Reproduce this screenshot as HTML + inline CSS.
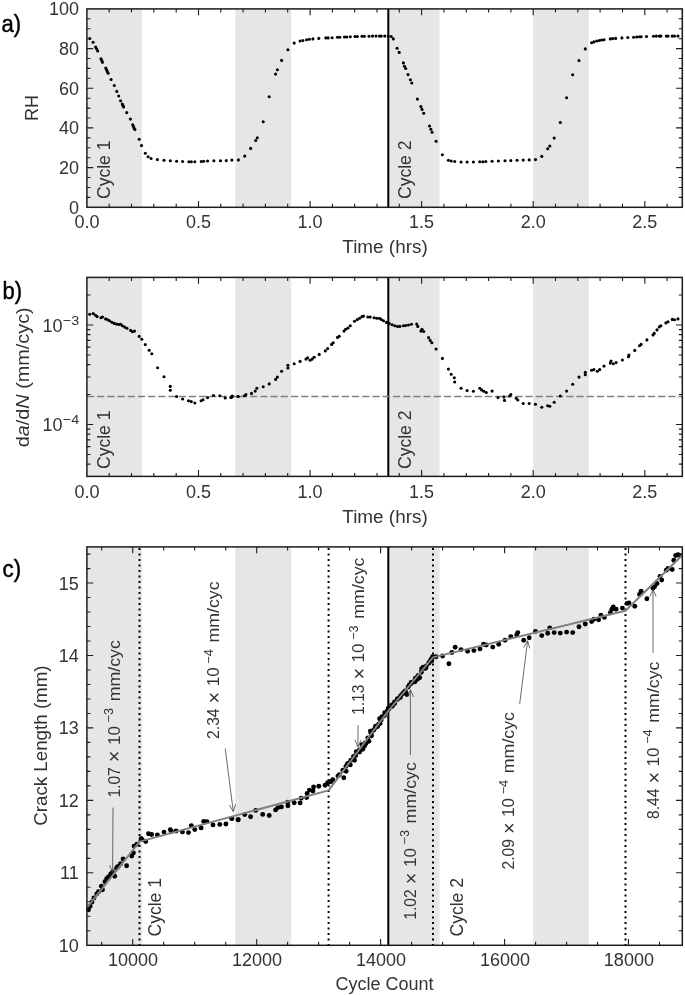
<!DOCTYPE html>
<html><head><meta charset="utf-8"><title>Figure</title>
<style>html,body{margin:0;padding:0;background:#fff}svg{display:block}</style></head>
<body>
<svg width="685" height="995" viewBox="0 0 685 995" font-family="'Liberation Sans', sans-serif" fill="#333">
<rect width="685" height="995" fill="#fff"/>
<rect x="86.9" y="8.9" width="55.1" height="198.4" fill="#e6e6e6"/>
<rect x="235.3" y="8.9" width="55.9" height="198.4" fill="#e6e6e6"/>
<rect x="388.3" y="8.9" width="51.2" height="198.4" fill="#e6e6e6"/>
<rect x="533.1" y="8.9" width="55.7" height="198.4" fill="#e6e6e6"/>
<line x1="388.3" x2="388.3" y1="8.9" y2="207.3" stroke="#000" stroke-width="2"/>
<g fill="#000">
<circle cx="89.8" cy="38.5" r="1.55"/>
<circle cx="93.1" cy="42.3" r="1.55"/>
<circle cx="95.7" cy="47.1" r="1.55"/>
<circle cx="96.6" cy="48.8" r="1.55"/>
<circle cx="97.7" cy="51.0" r="1.55"/>
<circle cx="101.0" cy="58.7" r="1.55"/>
<circle cx="101.8" cy="60.5" r="1.55"/>
<circle cx="102.5" cy="62.2" r="1.55"/>
<circle cx="105.8" cy="68.1" r="1.55"/>
<circle cx="106.6" cy="69.8" r="1.55"/>
<circle cx="107.3" cy="71.6" r="1.55"/>
<circle cx="108.2" cy="73.3" r="1.55"/>
<circle cx="111.1" cy="79.5" r="1.55"/>
<circle cx="114.3" cy="85.5" r="1.55"/>
<circle cx="116.8" cy="91.4" r="1.55"/>
<circle cx="118.7" cy="96.0" r="1.55"/>
<circle cx="120.6" cy="100.8" r="1.55"/>
<circle cx="122.3" cy="104.1" r="1.55"/>
<circle cx="122.9" cy="105.4" r="1.55"/>
<circle cx="123.6" cy="106.9" r="1.55"/>
<circle cx="126.7" cy="112.6" r="1.55"/>
<circle cx="130.4" cy="119.1" r="1.55"/>
<circle cx="132.7" cy="124.7" r="1.55"/>
<circle cx="133.4" cy="126.4" r="1.55"/>
<circle cx="134.2" cy="128.2" r="1.55"/>
<circle cx="134.9" cy="129.6" r="1.55"/>
<circle cx="139.2" cy="139.3" r="1.55"/>
<circle cx="141.5" cy="145.6" r="1.55"/>
<circle cx="145.3" cy="153.3" r="1.55"/>
<circle cx="148.1" cy="156.8" r="1.55"/>
<circle cx="151.1" cy="158.5" r="1.55"/>
<circle cx="157.4" cy="159.6" r="1.55"/>
<circle cx="164.0" cy="160.3" r="1.55"/>
<circle cx="170.3" cy="160.8" r="1.55"/>
<circle cx="176.6" cy="161.3" r="1.55"/>
<circle cx="182.6" cy="161.5" r="1.55"/>
<circle cx="188.9" cy="161.7" r="1.55"/>
<circle cx="191.3" cy="161.7" r="1.55"/>
<circle cx="194.8" cy="161.7" r="1.55"/>
<circle cx="201.3" cy="161.5" r="1.55"/>
<circle cx="203.7" cy="161.3" r="1.55"/>
<circle cx="207.6" cy="161.0" r="1.55"/>
<circle cx="213.9" cy="160.8" r="1.55"/>
<circle cx="220.5" cy="160.8" r="1.55"/>
<circle cx="226.3" cy="160.6" r="1.55"/>
<circle cx="231.9" cy="160.1" r="1.55"/>
<circle cx="238.4" cy="159.9" r="1.55"/>
<circle cx="244.7" cy="156.1" r="1.55"/>
<circle cx="250.6" cy="148.4" r="1.55"/>
<circle cx="255.7" cy="140.5" r="1.55"/>
<circle cx="257.3" cy="137.7" r="1.55"/>
<circle cx="263.2" cy="121.8" r="1.55"/>
<circle cx="269.2" cy="96.8" r="1.55"/>
<circle cx="275.6" cy="74.1" r="1.55"/>
<circle cx="277.4" cy="69.7" r="1.55"/>
<circle cx="281.6" cy="60.4" r="1.55"/>
<circle cx="287.9" cy="49.8" r="1.55"/>
<circle cx="294.2" cy="43.1" r="1.55"/>
<circle cx="300.1" cy="41.0" r="1.55"/>
<circle cx="302.9" cy="40.5" r="1.55"/>
<circle cx="306.6" cy="39.8" r="1.55"/>
<circle cx="309.4" cy="39.3" r="1.55"/>
<circle cx="312.9" cy="38.9" r="1.55"/>
<circle cx="318.8" cy="38.4" r="1.55"/>
<circle cx="325.8" cy="37.9" r="1.55"/>
<circle cx="328.1" cy="37.9" r="1.55"/>
<circle cx="332.1" cy="37.7" r="1.55"/>
<circle cx="337.5" cy="37.2" r="1.55"/>
<circle cx="339.8" cy="37.2" r="1.55"/>
<circle cx="344.5" cy="37.0" r="1.55"/>
<circle cx="346.8" cy="37.0" r="1.55"/>
<circle cx="350.3" cy="36.8" r="1.55"/>
<circle cx="355.0" cy="36.5" r="1.55"/>
<circle cx="357.3" cy="36.5" r="1.55"/>
<circle cx="362.0" cy="36.3" r="1.55"/>
<circle cx="364.3" cy="36.3" r="1.55"/>
<circle cx="369.0" cy="36.3" r="1.55"/>
<circle cx="372.5" cy="36.1" r="1.55"/>
<circle cx="376.0" cy="36.1" r="1.55"/>
<circle cx="379.5" cy="36.1" r="1.55"/>
<circle cx="381.2" cy="36.1" r="1.55"/>
<circle cx="384.7" cy="36.1" r="1.55"/>
<circle cx="388.2" cy="36.1" r="1.55"/>
<circle cx="391.2" cy="36.5" r="1.55"/>
<circle cx="393.3" cy="38.9" r="1.55"/>
<circle cx="397.1" cy="48.2" r="1.55"/>
<circle cx="399.2" cy="52.4" r="1.55"/>
<circle cx="403.4" cy="62.9" r="1.55"/>
<circle cx="404.5" cy="66.2" r="1.55"/>
<circle cx="405.7" cy="68.5" r="1.55"/>
<circle cx="408.0" cy="74.6" r="1.55"/>
<circle cx="410.4" cy="79.7" r="1.55"/>
<circle cx="411.8" cy="83.0" r="1.55"/>
<circle cx="417.4" cy="99.1" r="1.55"/>
<circle cx="420.9" cy="106.6" r="1.55"/>
<circle cx="422.0" cy="109.4" r="1.55"/>
<circle cx="423.7" cy="113.2" r="1.55"/>
<circle cx="429.5" cy="126.0" r="1.55"/>
<circle cx="430.9" cy="129.3" r="1.55"/>
<circle cx="432.1" cy="132.3" r="1.55"/>
<circle cx="436.1" cy="141.2" r="1.55"/>
<circle cx="442.4" cy="154.7" r="1.55"/>
<circle cx="448.4" cy="160.3" r="1.55"/>
<circle cx="451.2" cy="161.0" r="1.55"/>
<circle cx="454.7" cy="161.5" r="1.55"/>
<circle cx="461.1" cy="162.0" r="1.55"/>
<circle cx="467.1" cy="162.0" r="1.55"/>
<circle cx="473.4" cy="162.0" r="1.55"/>
<circle cx="479.7" cy="161.7" r="1.55"/>
<circle cx="482.8" cy="161.7" r="1.55"/>
<circle cx="485.8" cy="161.5" r="1.55"/>
<circle cx="492.1" cy="161.3" r="1.55"/>
<circle cx="498.4" cy="161.0" r="1.55"/>
<circle cx="505.0" cy="160.8" r="1.55"/>
<circle cx="510.8" cy="160.6" r="1.55"/>
<circle cx="517.1" cy="160.3" r="1.55"/>
<circle cx="523.2" cy="160.1" r="1.55"/>
<circle cx="529.2" cy="159.9" r="1.55"/>
<circle cx="535.5" cy="159.6" r="1.55"/>
<circle cx="541.8" cy="156.4" r="1.55"/>
<circle cx="547.7" cy="148.7" r="1.55"/>
<circle cx="549.8" cy="146.1" r="1.55"/>
<circle cx="554.2" cy="138.1" r="1.55"/>
<circle cx="560.3" cy="122.5" r="1.55"/>
<circle cx="566.6" cy="97.7" r="1.55"/>
<circle cx="572.7" cy="74.8" r="1.55"/>
<circle cx="579.0" cy="60.6" r="1.55"/>
<circle cx="585.3" cy="48.9" r="1.55"/>
<circle cx="591.6" cy="42.8" r="1.55"/>
<circle cx="593.9" cy="41.9" r="1.55"/>
<circle cx="596.7" cy="41.0" r="1.55"/>
<circle cx="599.3" cy="40.5" r="1.55"/>
<circle cx="601.6" cy="40.0" r="1.55"/>
<circle cx="604.0" cy="39.8" r="1.55"/>
<circle cx="610.3" cy="38.9" r="1.55"/>
<circle cx="612.6" cy="38.6" r="1.55"/>
<circle cx="615.6" cy="38.4" r="1.55"/>
<circle cx="621.9" cy="37.9" r="1.55"/>
<circle cx="627.8" cy="37.5" r="1.55"/>
<circle cx="633.6" cy="37.2" r="1.55"/>
<circle cx="636.7" cy="37.0" r="1.55"/>
<circle cx="639.5" cy="36.8" r="1.55"/>
<circle cx="641.1" cy="36.8" r="1.55"/>
<circle cx="646.5" cy="36.5" r="1.55"/>
<circle cx="653.5" cy="36.3" r="1.55"/>
<circle cx="656.3" cy="36.1" r="1.55"/>
<circle cx="659.3" cy="36.1" r="1.55"/>
<circle cx="660.9" cy="36.1" r="1.55"/>
<circle cx="666.3" cy="36.1" r="1.55"/>
<circle cx="668.0" cy="36.1" r="1.55"/>
<circle cx="672.2" cy="36.1" r="1.55"/>
<circle cx="674.5" cy="36.1" r="1.55"/>
<circle cx="678.0" cy="36.1" r="1.55"/>
</g>
<path d="M198.5 207.3v-6.3M198.5 8.9v6.3M310.1 207.3v-6.3M310.1 8.9v6.3M421.6 207.3v-6.3M421.6 8.9v6.3M533.2 207.3v-6.3M533.2 8.9v6.3M644.8 207.3v-6.3M644.8 8.9v6.3M109.2 207.3v-3.5M109.2 8.9v3.5M131.5 207.3v-3.5M131.5 8.9v3.5M153.8 207.3v-3.5M153.8 8.9v3.5M176.2 207.3v-3.5M176.2 8.9v3.5M220.8 207.3v-3.5M220.8 8.9v3.5M243.1 207.3v-3.5M243.1 8.9v3.5M265.4 207.3v-3.5M265.4 8.9v3.5M287.7 207.3v-3.5M287.7 8.9v3.5M332.4 207.3v-3.5M332.4 8.9v3.5M354.7 207.3v-3.5M354.7 8.9v3.5M377.0 207.3v-3.5M377.0 8.9v3.5M399.3 207.3v-3.5M399.3 8.9v3.5M443.9 207.3v-3.5M443.9 8.9v3.5M466.3 207.3v-3.5M466.3 8.9v3.5M488.6 207.3v-3.5M488.6 8.9v3.5M510.9 207.3v-3.5M510.9 8.9v3.5M555.5 207.3v-3.5M555.5 8.9v3.5M577.8 207.3v-3.5M577.8 8.9v3.5M600.1 207.3v-3.5M600.1 8.9v3.5M622.5 207.3v-3.5M622.5 8.9v3.5M667.1 207.3v-3.5M667.1 8.9v3.5" stroke="#1c1c1c" stroke-width="1.1" fill="none"/>
<path d="M86.9 167.6h6.3M682.3 167.6h-6.3M86.9 127.9h6.3M682.3 127.9h-6.3M86.9 88.3h6.3M682.3 88.3h-6.3M86.9 48.6h6.3M682.3 48.6h-6.3M86.9 197.4h3.5M682.3 197.4h-3.5M86.9 187.5h3.5M682.3 187.5h-3.5M86.9 177.5h3.5M682.3 177.5h-3.5M86.9 157.7h3.5M682.3 157.7h-3.5M86.9 147.8h3.5M682.3 147.8h-3.5M86.9 137.9h3.5M682.3 137.9h-3.5M86.9 118.0h3.5M682.3 118.0h-3.5M86.9 108.1h3.5M682.3 108.1h-3.5M86.9 98.2h3.5M682.3 98.2h-3.5M86.9 78.3h3.5M682.3 78.3h-3.5M86.9 68.4h3.5M682.3 68.4h-3.5M86.9 58.5h3.5M682.3 58.5h-3.5M86.9 38.7h3.5M682.3 38.7h-3.5M86.9 28.7h3.5M682.3 28.7h-3.5M86.9 18.8h3.5M682.3 18.8h-3.5" stroke="#1c1c1c" stroke-width="1.1" fill="none"/>
<rect x="86.9" y="8.9" width="595.4" height="198.4" fill="none" stroke="#1c1c1c" stroke-width="1.5"/>
<text x="79.0" y="213.6" font-size="18" text-anchor="end">0</text>
<text x="79.0" y="173.9" font-size="18" text-anchor="end">20</text>
<text x="79.0" y="134.2" font-size="18" text-anchor="end">40</text>
<text x="79.0" y="94.6" font-size="18" text-anchor="end">60</text>
<text x="79.0" y="54.9" font-size="18" text-anchor="end">80</text>
<text x="79.0" y="15.2" font-size="18" text-anchor="end">100</text>
<text x="86.9" y="227.8" font-size="18" text-anchor="middle">0.0</text>
<text x="198.5" y="227.8" font-size="18" text-anchor="middle">0.5</text>
<text x="310.1" y="227.8" font-size="18" text-anchor="middle">1.0</text>
<text x="421.6" y="227.8" font-size="18" text-anchor="middle">1.5</text>
<text x="533.2" y="227.8" font-size="18" text-anchor="middle">2.0</text>
<text x="644.8" y="227.8" font-size="18" text-anchor="middle">2.5</text>
<text x="385.0" y="252.9" font-size="18" text-anchor="middle" textLength="85.4" lengthAdjust="spacingAndGlyphs">Time (hrs)</text>
<text transform="translate(38.1 108.0) rotate(-90)" font-size="18" text-anchor="middle">RH</text>
<text transform="translate(109.5 199.0) rotate(-90)" font-size="18" text-anchor="start" textLength="58.5" lengthAdjust="spacingAndGlyphs">Cycle 1</text>
<text transform="translate(410.8 199.0) rotate(-90)" font-size="18" text-anchor="start" textLength="58.5" lengthAdjust="spacingAndGlyphs">Cycle 2</text>
<text x="1.6" y="31.5" font-size="23" text-anchor="start" textLength="19.6" lengthAdjust="spacingAndGlyphs" fill="#000" stroke="#000" stroke-width="0.45">a)</text>
<rect x="86.9" y="277.4" width="55.1" height="199.0" fill="#e6e6e6"/>
<rect x="235.3" y="277.4" width="55.9" height="199.0" fill="#e6e6e6"/>
<rect x="388.3" y="277.4" width="51.2" height="199.0" fill="#e6e6e6"/>
<rect x="533.1" y="277.4" width="55.7" height="199.0" fill="#e6e6e6"/>
<line x1="388.3" x2="388.3" y1="277.4" y2="476.4" stroke="#000" stroke-width="2"/>
<line x1="86.9" x2="682.3" y1="396.5" y2="396.5" stroke="#808080" stroke-width="1.6" stroke-dasharray="7.2 3"/>
<g fill="#000">
<circle cx="89.7" cy="314.2" r="1.55"/>
<circle cx="93.2" cy="313.5" r="1.55"/>
<circle cx="95.5" cy="315.2" r="1.55"/>
<circle cx="97.1" cy="316.6" r="1.55"/>
<circle cx="100.9" cy="317.7" r="1.55"/>
<circle cx="102.5" cy="317.0" r="1.55"/>
<circle cx="105.6" cy="318.9" r="1.55"/>
<circle cx="107.7" cy="319.8" r="1.55"/>
<circle cx="109.5" cy="320.8" r="1.55"/>
<circle cx="111.9" cy="322.2" r="1.55"/>
<circle cx="114.2" cy="323.4" r="1.55"/>
<circle cx="116.5" cy="324.1" r="1.55"/>
<circle cx="118.9" cy="324.5" r="1.55"/>
<circle cx="120.5" cy="324.3" r="1.55"/>
<circle cx="122.4" cy="325.7" r="1.55"/>
<circle cx="124.7" cy="327.1" r="1.55"/>
<circle cx="127.0" cy="328.3" r="1.55"/>
<circle cx="130.6" cy="330.4" r="1.55"/>
<circle cx="132.4" cy="331.8" r="1.55"/>
<circle cx="134.5" cy="331.1" r="1.55"/>
<circle cx="139.2" cy="336.4" r="1.55"/>
<circle cx="141.8" cy="339.2" r="1.55"/>
<circle cx="145.3" cy="344.6" r="1.55"/>
<circle cx="149.2" cy="350.2" r="1.55"/>
<circle cx="151.8" cy="353.7" r="1.55"/>
<circle cx="157.6" cy="367.7" r="1.55"/>
<circle cx="164.0" cy="376.8" r="1.55"/>
<circle cx="170.3" cy="386.4" r="1.55"/>
<circle cx="170.3" cy="390.2" r="1.55"/>
<circle cx="176.6" cy="396.5" r="1.55"/>
<circle cx="182.6" cy="399.0" r="1.55"/>
<circle cx="188.5" cy="400.7" r="1.55"/>
<circle cx="191.3" cy="401.6" r="1.55"/>
<circle cx="194.8" cy="403.0" r="1.55"/>
<circle cx="201.1" cy="400.7" r="1.55"/>
<circle cx="203.0" cy="399.7" r="1.55"/>
<circle cx="207.6" cy="397.6" r="1.55"/>
<circle cx="213.5" cy="395.5" r="1.55"/>
<circle cx="219.8" cy="395.8" r="1.55"/>
<circle cx="225.2" cy="397.9" r="1.55"/>
<circle cx="231.0" cy="397.4" r="1.55"/>
<circle cx="232.2" cy="396.0" r="1.55"/>
<circle cx="238.0" cy="396.5" r="1.55"/>
<circle cx="231.2" cy="397.4" r="1.55"/>
<circle cx="232.3" cy="396.5" r="1.55"/>
<circle cx="238.2" cy="396.5" r="1.55"/>
<circle cx="244.5" cy="395.8" r="1.55"/>
<circle cx="245.9" cy="394.6" r="1.55"/>
<circle cx="251.5" cy="393.4" r="1.55"/>
<circle cx="255.2" cy="391.1" r="1.55"/>
<circle cx="256.9" cy="388.3" r="1.55"/>
<circle cx="263.2" cy="386.7" r="1.55"/>
<circle cx="269.2" cy="383.9" r="1.55"/>
<circle cx="275.6" cy="379.4" r="1.55"/>
<circle cx="277.4" cy="377.1" r="1.55"/>
<circle cx="281.6" cy="371.2" r="1.55"/>
<circle cx="287.9" cy="368.0" r="1.55"/>
<circle cx="287.9" cy="365.2" r="1.55"/>
<circle cx="294.2" cy="363.8" r="1.55"/>
<circle cx="300.1" cy="361.4" r="1.55"/>
<circle cx="305.9" cy="359.1" r="1.55"/>
<circle cx="307.6" cy="357.9" r="1.55"/>
<circle cx="310.1" cy="360.3" r="1.55"/>
<circle cx="312.2" cy="359.1" r="1.55"/>
<circle cx="314.1" cy="357.2" r="1.55"/>
<circle cx="319.2" cy="354.4" r="1.55"/>
<circle cx="325.3" cy="350.9" r="1.55"/>
<circle cx="327.6" cy="348.6" r="1.55"/>
<circle cx="331.6" cy="344.4" r="1.55"/>
<circle cx="333.2" cy="342.7" r="1.55"/>
<circle cx="337.5" cy="337.4" r="1.55"/>
<circle cx="339.3" cy="336.2" r="1.55"/>
<circle cx="344.0" cy="331.1" r="1.55"/>
<circle cx="345.6" cy="329.2" r="1.55"/>
<circle cx="348.0" cy="328.0" r="1.55"/>
<circle cx="350.3" cy="325.7" r="1.55"/>
<circle cx="354.5" cy="321.3" r="1.55"/>
<circle cx="357.3" cy="319.6" r="1.55"/>
<circle cx="359.6" cy="318.2" r="1.55"/>
<circle cx="362.0" cy="316.6" r="1.55"/>
<circle cx="363.6" cy="316.1" r="1.55"/>
<circle cx="367.8" cy="317.0" r="1.55"/>
<circle cx="370.2" cy="317.0" r="1.55"/>
<circle cx="374.1" cy="317.7" r="1.55"/>
<circle cx="376.7" cy="318.2" r="1.55"/>
<circle cx="379.5" cy="318.4" r="1.55"/>
<circle cx="381.2" cy="319.4" r="1.55"/>
<circle cx="383.5" cy="320.8" r="1.55"/>
<circle cx="386.5" cy="322.4" r="1.55"/>
<circle cx="389.3" cy="323.6" r="1.55"/>
<circle cx="392.1" cy="324.8" r="1.55"/>
<circle cx="394.7" cy="325.7" r="1.55"/>
<circle cx="397.5" cy="326.4" r="1.55"/>
<circle cx="399.9" cy="326.4" r="1.55"/>
<circle cx="403.4" cy="325.7" r="1.55"/>
<circle cx="405.7" cy="325.5" r="1.55"/>
<circle cx="408.5" cy="325.0" r="1.55"/>
<circle cx="411.5" cy="324.3" r="1.55"/>
<circle cx="416.7" cy="324.1" r="1.55"/>
<circle cx="417.8" cy="326.4" r="1.55"/>
<circle cx="420.9" cy="331.1" r="1.55"/>
<circle cx="422.0" cy="329.2" r="1.55"/>
<circle cx="423.7" cy="331.5" r="1.55"/>
<circle cx="428.6" cy="337.6" r="1.55"/>
<circle cx="430.2" cy="340.4" r="1.55"/>
<circle cx="431.9" cy="342.7" r="1.55"/>
<circle cx="436.1" cy="349.0" r="1.55"/>
<circle cx="442.4" cy="358.4" r="1.55"/>
<circle cx="448.4" cy="369.1" r="1.55"/>
<circle cx="451.2" cy="374.3" r="1.55"/>
<circle cx="454.3" cy="377.8" r="1.55"/>
<circle cx="454.7" cy="382.0" r="1.55"/>
<circle cx="461.1" cy="388.3" r="1.55"/>
<circle cx="467.1" cy="390.6" r="1.55"/>
<circle cx="473.4" cy="391.3" r="1.55"/>
<circle cx="479.7" cy="388.3" r="1.55"/>
<circle cx="481.6" cy="389.9" r="1.55"/>
<circle cx="483.9" cy="391.3" r="1.55"/>
<circle cx="486.3" cy="392.5" r="1.55"/>
<circle cx="492.1" cy="391.1" r="1.55"/>
<circle cx="498.0" cy="397.6" r="1.55"/>
<circle cx="503.8" cy="396.9" r="1.55"/>
<circle cx="504.5" cy="400.4" r="1.55"/>
<circle cx="509.6" cy="396.0" r="1.55"/>
<circle cx="510.8" cy="394.6" r="1.55"/>
<circle cx="516.2" cy="398.3" r="1.55"/>
<circle cx="517.8" cy="400.0" r="1.55"/>
<circle cx="523.2" cy="403.5" r="1.55"/>
<circle cx="529.2" cy="403.5" r="1.55"/>
<circle cx="535.5" cy="404.2" r="1.55"/>
<circle cx="541.8" cy="407.2" r="1.55"/>
<circle cx="547.7" cy="405.8" r="1.55"/>
<circle cx="549.8" cy="406.3" r="1.55"/>
<circle cx="554.2" cy="402.3" r="1.55"/>
<circle cx="560.3" cy="396.0" r="1.55"/>
<circle cx="566.6" cy="391.1" r="1.55"/>
<circle cx="572.7" cy="384.3" r="1.55"/>
<circle cx="579.0" cy="377.1" r="1.55"/>
<circle cx="585.3" cy="374.7" r="1.55"/>
<circle cx="585.3" cy="372.4" r="1.55"/>
<circle cx="591.6" cy="370.3" r="1.55"/>
<circle cx="593.9" cy="369.6" r="1.55"/>
<circle cx="597.4" cy="371.2" r="1.55"/>
<circle cx="599.7" cy="369.6" r="1.55"/>
<circle cx="604.0" cy="366.1" r="1.55"/>
<circle cx="610.3" cy="363.1" r="1.55"/>
<circle cx="611.0" cy="361.0" r="1.55"/>
<circle cx="613.3" cy="363.8" r="1.55"/>
<circle cx="616.1" cy="362.6" r="1.55"/>
<circle cx="622.4" cy="360.0" r="1.55"/>
<circle cx="628.5" cy="356.8" r="1.55"/>
<circle cx="628.9" cy="355.1" r="1.55"/>
<circle cx="634.8" cy="350.4" r="1.55"/>
<circle cx="639.5" cy="345.8" r="1.55"/>
<circle cx="641.1" cy="344.4" r="1.55"/>
<circle cx="646.9" cy="339.9" r="1.55"/>
<circle cx="653.0" cy="335.0" r="1.55"/>
<circle cx="654.2" cy="333.4" r="1.55"/>
<circle cx="657.0" cy="329.9" r="1.55"/>
<circle cx="659.3" cy="326.9" r="1.55"/>
<circle cx="660.9" cy="325.7" r="1.55"/>
<circle cx="665.9" cy="322.9" r="1.55"/>
<circle cx="668.0" cy="321.7" r="1.55"/>
<circle cx="672.2" cy="319.4" r="1.55"/>
<circle cx="674.5" cy="319.8" r="1.55"/>
<circle cx="678.0" cy="318.9" r="1.55"/>
</g>
<path d="M198.5 476.4v-6.3M198.5 277.4v6.3M310.1 476.4v-6.3M310.1 277.4v6.3M421.6 476.4v-6.3M421.6 277.4v6.3M533.2 476.4v-6.3M533.2 277.4v6.3M644.8 476.4v-6.3M644.8 277.4v6.3M109.2 476.4v-3.5M109.2 277.4v3.5M131.5 476.4v-3.5M131.5 277.4v3.5M153.8 476.4v-3.5M153.8 277.4v3.5M176.2 476.4v-3.5M176.2 277.4v3.5M220.8 476.4v-3.5M220.8 277.4v3.5M243.1 476.4v-3.5M243.1 277.4v3.5M265.4 476.4v-3.5M265.4 277.4v3.5M287.7 476.4v-3.5M287.7 277.4v3.5M332.4 476.4v-3.5M332.4 277.4v3.5M354.7 476.4v-3.5M354.7 277.4v3.5M377.0 476.4v-3.5M377.0 277.4v3.5M399.3 476.4v-3.5M399.3 277.4v3.5M443.9 476.4v-3.5M443.9 277.4v3.5M466.3 476.4v-3.5M466.3 277.4v3.5M488.6 476.4v-3.5M488.6 277.4v3.5M510.9 476.4v-3.5M510.9 277.4v3.5M555.5 476.4v-3.5M555.5 277.4v3.5M577.8 476.4v-3.5M577.8 277.4v3.5M600.1 476.4v-3.5M600.1 277.4v3.5M622.5 476.4v-3.5M622.5 277.4v3.5M667.1 476.4v-3.5M667.1 277.4v3.5" stroke="#1c1c1c" stroke-width="1.1" fill="none"/>
<path d="M86.9 325.0h6.3M682.3 325.0h-6.3M86.9 424.5h6.3M682.3 424.5h-6.3M86.9 476.5h3.5M682.3 476.5h-3.5M86.9 464.1h3.5M682.3 464.1h-3.5M86.9 454.5h3.5M682.3 454.5h-3.5M86.9 446.6h3.5M682.3 446.6h-3.5M86.9 439.9h3.5M682.3 439.9h-3.5M86.9 434.1h3.5M682.3 434.1h-3.5M86.9 429.1h3.5M682.3 429.1h-3.5M86.9 394.5h3.5M682.3 394.5h-3.5M86.9 377.0h3.5M682.3 377.0h-3.5M86.9 364.6h3.5M682.3 364.6h-3.5M86.9 355.0h3.5M682.3 355.0h-3.5M86.9 347.1h3.5M682.3 347.1h-3.5M86.9 340.4h3.5M682.3 340.4h-3.5M86.9 334.6h3.5M682.3 334.6h-3.5M86.9 329.6h3.5M682.3 329.6h-3.5M86.9 295.0h3.5M682.3 295.0h-3.5" stroke="#1c1c1c" stroke-width="1.1" fill="none"/>
<rect x="86.9" y="277.4" width="595.4" height="199.0" fill="none" stroke="#1c1c1c" stroke-width="1.5"/>
<text x="62.5" y="331.8" font-size="18" text-anchor="end">10</text>
<text x="62.8" y="324.5" font-size="13.2" text-anchor="start" textLength="16.5" lengthAdjust="spacingAndGlyphs">−3</text>
<text x="62.5" y="431.3" font-size="18" text-anchor="end">10</text>
<text x="62.8" y="424.0" font-size="13.2" text-anchor="start" textLength="16.5" lengthAdjust="spacingAndGlyphs">−4</text>
<text x="86.9" y="498.0" font-size="18" text-anchor="middle">0.0</text>
<text x="198.5" y="498.0" font-size="18" text-anchor="middle">0.5</text>
<text x="310.1" y="498.0" font-size="18" text-anchor="middle">1.0</text>
<text x="421.6" y="498.0" font-size="18" text-anchor="middle">1.5</text>
<text x="533.2" y="498.0" font-size="18" text-anchor="middle">2.0</text>
<text x="644.8" y="498.0" font-size="18" text-anchor="middle">2.5</text>
<text x="385.0" y="522.7" font-size="18" text-anchor="middle" textLength="85.4" lengthAdjust="spacingAndGlyphs">Time (hrs)</text>
<text transform="translate(29.0 447.3) rotate(-90)" font-size="18" text-anchor="start" textLength="140.0" lengthAdjust="spacingAndGlyphs">d<tspan font-style="italic">a</tspan>/d<tspan font-style="italic">N</tspan> (mm/cyc)</text>
<text transform="translate(109.5 469.0) rotate(-90)" font-size="18" text-anchor="start" textLength="58.5" lengthAdjust="spacingAndGlyphs">Cycle 1</text>
<text transform="translate(410.8 469.0) rotate(-90)" font-size="18" text-anchor="start" textLength="58.5" lengthAdjust="spacingAndGlyphs">Cycle 2</text>
<text x="2.6" y="299.3" font-size="23" text-anchor="start" textLength="19.6" lengthAdjust="spacingAndGlyphs" fill="#000" stroke="#000" stroke-width="0.45">b)</text>
<rect x="86.9" y="546.9" width="55.1" height="398.4" fill="#e6e6e6"/>
<rect x="235.3" y="546.9" width="55.9" height="398.4" fill="#e6e6e6"/>
<rect x="388.3" y="546.9" width="51.2" height="398.4" fill="#e6e6e6"/>
<rect x="533.1" y="546.9" width="55.7" height="398.4" fill="#e6e6e6"/>
<line x1="388.3" x2="388.3" y1="546.9" y2="945.3" stroke="#000" stroke-width="2"/>
<line x1="139.5" x2="139.5" y1="547.9" y2="945.3" stroke="#000" stroke-width="2" stroke-dasharray="2.1 3.4"/>
<line x1="328.6" x2="328.6" y1="547.9" y2="945.3" stroke="#000" stroke-width="2" stroke-dasharray="2.1 3.4"/>
<line x1="433.0" x2="433.0" y1="547.9" y2="945.3" stroke="#000" stroke-width="2" stroke-dasharray="2.1 3.4"/>
<line x1="625.5" x2="625.5" y1="547.9" y2="945.3" stroke="#000" stroke-width="2" stroke-dasharray="2.1 3.4"/>
<g fill="#000">
<circle cx="88.5" cy="909.7" r="2.45"/>
<circle cx="90.1" cy="906.2" r="2.45"/>
<circle cx="92.0" cy="902.0" r="2.45"/>
<circle cx="93.9" cy="898.0" r="2.45"/>
<circle cx="96.7" cy="894.0" r="2.45"/>
<circle cx="98.5" cy="891.7" r="2.45"/>
<circle cx="101.4" cy="886.3" r="2.45"/>
<circle cx="102.5" cy="889.8" r="2.45"/>
<circle cx="104.9" cy="881.7" r="2.45"/>
<circle cx="106.7" cy="878.6" r="2.45"/>
<circle cx="108.4" cy="877.0" r="2.45"/>
<circle cx="110.7" cy="873.9" r="2.45"/>
<circle cx="112.6" cy="872.3" r="2.45"/>
<circle cx="114.7" cy="876.3" r="2.45"/>
<circle cx="116.5" cy="868.3" r="2.45"/>
<circle cx="118.2" cy="866.5" r="2.45"/>
<circle cx="120.5" cy="863.7" r="2.45"/>
<circle cx="123.1" cy="859.0" r="2.45"/>
<circle cx="126.6" cy="865.8" r="2.45"/>
<circle cx="131.7" cy="856.0" r="2.45"/>
<circle cx="133.4" cy="852.9" r="2.45"/>
<circle cx="134.1" cy="846.1" r="2.45"/>
<circle cx="136.9" cy="844.3" r="2.45"/>
<circle cx="141.1" cy="838.4" r="2.45"/>
<circle cx="142.2" cy="839.6" r="2.45"/>
<circle cx="145.7" cy="841.5" r="2.45"/>
<circle cx="148.5" cy="833.8" r="2.45"/>
<circle cx="151.6" cy="834.5" r="2.45"/>
<circle cx="157.4" cy="834.9" r="2.45"/>
<circle cx="164.0" cy="832.1" r="2.45"/>
<circle cx="170.3" cy="829.6" r="2.45"/>
<circle cx="171.4" cy="831.4" r="2.45"/>
<circle cx="176.1" cy="831.0" r="2.45"/>
<circle cx="182.4" cy="831.9" r="2.45"/>
<circle cx="188.5" cy="832.6" r="2.45"/>
<circle cx="191.3" cy="825.6" r="2.45"/>
<circle cx="194.8" cy="829.6" r="2.45"/>
<circle cx="201.1" cy="827.9" r="2.45"/>
<circle cx="203.7" cy="821.4" r="2.45"/>
<circle cx="206.9" cy="821.6" r="2.45"/>
<circle cx="213.0" cy="824.9" r="2.45"/>
<circle cx="219.8" cy="824.4" r="2.45"/>
<circle cx="225.9" cy="824.0" r="2.45"/>
<circle cx="231.7" cy="818.6" r="2.45"/>
<circle cx="238.0" cy="819.7" r="2.45"/>
<circle cx="231.9" cy="818.6" r="2.45"/>
<circle cx="238.2" cy="819.7" r="2.45"/>
<circle cx="244.7" cy="814.6" r="2.45"/>
<circle cx="250.6" cy="816.7" r="2.45"/>
<circle cx="255.7" cy="810.4" r="2.45"/>
<circle cx="262.7" cy="814.4" r="2.45"/>
<circle cx="269.2" cy="815.5" r="2.45"/>
<circle cx="275.6" cy="809.9" r="2.45"/>
<circle cx="277.9" cy="807.6" r="2.45"/>
<circle cx="281.4" cy="806.9" r="2.45"/>
<circle cx="287.7" cy="802.2" r="2.45"/>
<circle cx="287.9" cy="805.7" r="2.45"/>
<circle cx="294.2" cy="802.7" r="2.45"/>
<circle cx="300.1" cy="802.9" r="2.45"/>
<circle cx="301.2" cy="798.3" r="2.45"/>
<circle cx="306.6" cy="797.6" r="2.45"/>
<circle cx="307.1" cy="793.4" r="2.45"/>
<circle cx="309.4" cy="790.1" r="2.45"/>
<circle cx="312.9" cy="791.0" r="2.45"/>
<circle cx="313.6" cy="787.0" r="2.45"/>
<circle cx="318.8" cy="786.3" r="2.45"/>
<circle cx="325.1" cy="785.2" r="2.45"/>
<circle cx="327.6" cy="782.8" r="2.45"/>
<circle cx="330.9" cy="781.7" r="2.45"/>
<circle cx="332.8" cy="779.6" r="2.45"/>
<circle cx="337.9" cy="776.1" r="2.45"/>
<circle cx="339.3" cy="774.7" r="2.45"/>
<circle cx="343.8" cy="777.7" r="2.45"/>
<circle cx="346.1" cy="771.2" r="2.45"/>
<circle cx="347.5" cy="763.7" r="2.45"/>
<circle cx="350.3" cy="764.9" r="2.45"/>
<circle cx="354.5" cy="760.2" r="2.45"/>
<circle cx="355.7" cy="755.5" r="2.45"/>
<circle cx="359.6" cy="752.0" r="2.45"/>
<circle cx="362.7" cy="749.2" r="2.45"/>
<circle cx="364.3" cy="746.2" r="2.45"/>
<circle cx="381.9" cy="716.7" r="2.45"/>
<circle cx="384.7" cy="712.7" r="2.45"/>
<circle cx="388.2" cy="708.5" r="2.45"/>
<circle cx="391.7" cy="705.0" r="2.45"/>
<circle cx="394.5" cy="702.0" r="2.45"/>
<circle cx="397.5" cy="698.7" r="2.45"/>
<circle cx="400.6" cy="695.7" r="2.45"/>
<circle cx="403.4" cy="692.6" r="2.45"/>
<circle cx="405.2" cy="691.0" r="2.45"/>
<circle cx="406.9" cy="694.5" r="2.45"/>
<circle cx="409.2" cy="685.2" r="2.45"/>
<circle cx="411.1" cy="682.4" r="2.45"/>
<circle cx="415.0" cy="681.7" r="2.45"/>
<circle cx="417.4" cy="679.3" r="2.45"/>
<circle cx="419.7" cy="677.7" r="2.45"/>
<circle cx="421.6" cy="668.8" r="2.45"/>
<circle cx="423.2" cy="667.2" r="2.45"/>
<circle cx="425.6" cy="668.3" r="2.45"/>
<circle cx="429.1" cy="663.0" r="2.45"/>
<circle cx="430.9" cy="659.5" r="2.45"/>
<circle cx="432.6" cy="656.7" r="2.45"/>
<circle cx="436.1" cy="656.7" r="2.45"/>
<circle cx="442.6" cy="656.0" r="2.45"/>
<circle cx="448.9" cy="663.7" r="2.45"/>
<circle cx="451.9" cy="652.5" r="2.45"/>
<circle cx="455.2" cy="647.3" r="2.45"/>
<circle cx="461.1" cy="649.6" r="2.45"/>
<circle cx="467.6" cy="651.3" r="2.45"/>
<circle cx="473.9" cy="650.6" r="2.45"/>
<circle cx="480.0" cy="648.9" r="2.45"/>
<circle cx="483.5" cy="644.3" r="2.45"/>
<circle cx="486.3" cy="645.0" r="2.45"/>
<circle cx="492.8" cy="647.1" r="2.45"/>
<circle cx="498.7" cy="644.3" r="2.45"/>
<circle cx="505.0" cy="640.3" r="2.45"/>
<circle cx="510.8" cy="636.6" r="2.45"/>
<circle cx="516.7" cy="634.9" r="2.45"/>
<circle cx="517.8" cy="632.6" r="2.45"/>
<circle cx="523.7" cy="640.3" r="2.45"/>
<circle cx="529.2" cy="637.7" r="2.45"/>
<circle cx="535.5" cy="631.4" r="2.45"/>
<circle cx="541.8" cy="635.6" r="2.45"/>
<circle cx="547.7" cy="633.3" r="2.45"/>
<circle cx="549.8" cy="627.9" r="2.45"/>
<circle cx="554.2" cy="632.6" r="2.45"/>
<circle cx="560.3" cy="633.1" r="2.45"/>
<circle cx="566.6" cy="632.1" r="2.45"/>
<circle cx="572.7" cy="632.6" r="2.45"/>
<circle cx="579.0" cy="626.8" r="2.45"/>
<circle cx="585.3" cy="624.0" r="2.45"/>
<circle cx="591.6" cy="621.6" r="2.45"/>
<circle cx="593.9" cy="619.3" r="2.45"/>
<circle cx="598.6" cy="619.7" r="2.45"/>
<circle cx="600.9" cy="615.1" r="2.45"/>
<circle cx="604.4" cy="617.4" r="2.45"/>
<circle cx="610.3" cy="612.7" r="2.45"/>
<circle cx="611.9" cy="609.2" r="2.45"/>
<circle cx="613.3" cy="606.9" r="2.45"/>
<circle cx="616.1" cy="609.2" r="2.45"/>
<circle cx="622.4" cy="608.1" r="2.45"/>
<circle cx="627.1" cy="603.4" r="2.45"/>
<circle cx="628.9" cy="602.9" r="2.45"/>
<circle cx="634.8" cy="606.2" r="2.45"/>
<circle cx="639.5" cy="594.5" r="2.45"/>
<circle cx="641.1" cy="591.3" r="2.45"/>
<circle cx="646.9" cy="598.7" r="2.45"/>
<circle cx="653.0" cy="588.2" r="2.45"/>
<circle cx="654.6" cy="586.6" r="2.45"/>
<circle cx="657.0" cy="583.5" r="2.45"/>
<circle cx="660.0" cy="576.5" r="2.45"/>
<circle cx="661.7" cy="580.0" r="2.45"/>
<circle cx="666.3" cy="570.2" r="2.45"/>
<circle cx="668.0" cy="568.4" r="2.45"/>
<circle cx="672.2" cy="569.5" r="2.45"/>
<circle cx="673.8" cy="560.2" r="2.45"/>
<circle cx="675.7" cy="555.5" r="2.45"/>
<circle cx="678.0" cy="554.8" r="2.45"/>
<circle cx="679.6" cy="555.5" r="2.45"/>
<circle cx="366.0" cy="743.5" r="2.45"/>
<circle cx="368.9" cy="741.3" r="2.45"/>
<circle cx="370.4" cy="731.1" r="2.45"/>
<circle cx="371.5" cy="735.7" r="2.45"/>
<circle cx="375.0" cy="728.0" r="2.45"/>
<circle cx="377.6" cy="726.5" r="2.45"/>
<circle cx="379.6" cy="718.8" r="2.45"/>
<circle cx="380.1" cy="723.4" r="2.45"/>
<circle cx="342.8" cy="770.3" r="2.45"/>
<circle cx="345.9" cy="766.4" r="2.45"/>
<circle cx="348.5" cy="763.5" r="2.45"/>
<circle cx="350.8" cy="760.2" r="2.45"/>
<circle cx="353.5" cy="756.4" r="2.45"/>
<circle cx="356.3" cy="751.8" r="2.45"/>
<circle cx="359.4" cy="750.0" r="2.45"/>
<circle cx="361.9" cy="744.8" r="2.45"/>
<circle cx="365.1" cy="743.0" r="2.45"/>
<circle cx="367.8" cy="737.9" r="2.45"/>
<circle cx="371.0" cy="733.3" r="2.45"/>
<circle cx="373.6" cy="730.3" r="2.45"/>
<circle cx="375.6" cy="726.2" r="2.45"/>
<circle cx="378.6" cy="724.3" r="2.45"/>
<circle cx="381.2" cy="720.0" r="2.45"/>
<circle cx="384.4" cy="715.8" r="2.45"/>
<circle cx="387.0" cy="711.4" r="2.45"/>
<circle cx="389.1" cy="708.7" r="2.45"/>
<circle cx="392.3" cy="706.2" r="2.45"/>
<circle cx="394.6" cy="703.5" r="2.45"/>
<circle cx="397.3" cy="699.6" r="2.45"/>
<circle cx="400.3" cy="697.5" r="2.45"/>
<circle cx="402.4" cy="694.1" r="2.45"/>
<circle cx="405.3" cy="691.7" r="2.45"/>
<circle cx="408.1" cy="687.1" r="2.45"/>
<circle cx="411.0" cy="683.5" r="2.45"/>
<circle cx="413.0" cy="682.0" r="2.45"/>
<circle cx="415.4" cy="678.2" r="2.45"/>
<circle cx="417.9" cy="675.6" r="2.45"/>
<circle cx="421.3" cy="672.2" r="2.45"/>
<circle cx="424.0" cy="668.4" r="2.45"/>
<circle cx="426.4" cy="666.0" r="2.45"/>
<circle cx="429.0" cy="662.5" r="2.45"/>
<circle cx="431.8" cy="660.7" r="2.45"/>
</g>
<polyline points="86.9,907.6 139.6,841.6 328.6,790.4 388.3,710.9 433.0,657.4 625.4,610.8 682.3,555.2" fill="none" stroke="#808080" stroke-width="2" stroke-linejoin="round"/>
<path d="M132.7 945.3v-6.3M132.7 546.9v6.3M256.7 945.3v-6.3M256.7 546.9v6.3M380.6 945.3v-6.3M380.6 546.9v6.3M504.6 945.3v-6.3M504.6 546.9v6.3M628.5 945.3v-6.3M628.5 546.9v6.3M101.7 945.3v-3.5M101.7 546.9v3.5M163.7 945.3v-3.5M163.7 546.9v3.5M194.7 945.3v-3.5M194.7 546.9v3.5M225.7 945.3v-3.5M225.7 546.9v3.5M287.6 945.3v-3.5M287.6 546.9v3.5M318.6 945.3v-3.5M318.6 546.9v3.5M349.6 945.3v-3.5M349.6 546.9v3.5M411.6 945.3v-3.5M411.6 546.9v3.5M442.6 945.3v-3.5M442.6 546.9v3.5M473.6 945.3v-3.5M473.6 546.9v3.5M535.6 945.3v-3.5M535.6 546.9v3.5M566.6 945.3v-3.5M566.6 546.9v3.5M597.5 945.3v-3.5M597.5 546.9v3.5M659.5 945.3v-3.5M659.5 546.9v3.5" stroke="#1c1c1c" stroke-width="1.1" fill="none"/>
<path d="M86.9 872.8h6.3M682.3 872.8h-6.3M86.9 800.4h6.3M682.3 800.4h-6.3M86.9 727.9h6.3M682.3 727.9h-6.3M86.9 655.5h6.3M682.3 655.5h-6.3M86.9 583.0h6.3M682.3 583.0h-6.3M86.9 930.8h3.5M682.3 930.8h-3.5M86.9 916.3h3.5M682.3 916.3h-3.5M86.9 901.8h3.5M682.3 901.8h-3.5M86.9 887.3h3.5M682.3 887.3h-3.5M86.9 858.4h3.5M682.3 858.4h-3.5M86.9 843.9h3.5M682.3 843.9h-3.5M86.9 829.4h3.5M682.3 829.4h-3.5M86.9 814.9h3.5M682.3 814.9h-3.5M86.9 785.9h3.5M682.3 785.9h-3.5M86.9 771.4h3.5M682.3 771.4h-3.5M86.9 756.9h3.5M682.3 756.9h-3.5M86.9 742.4h3.5M682.3 742.4h-3.5M86.9 713.5h3.5M682.3 713.5h-3.5M86.9 699.0h3.5M682.3 699.0h-3.5M86.9 684.5h3.5M682.3 684.5h-3.5M86.9 670.0h3.5M682.3 670.0h-3.5M86.9 641.0h3.5M682.3 641.0h-3.5M86.9 626.5h3.5M682.3 626.5h-3.5M86.9 612.0h3.5M682.3 612.0h-3.5M86.9 597.5h3.5M682.3 597.5h-3.5M86.9 568.6h3.5M682.3 568.6h-3.5M86.9 554.1h3.5M682.3 554.1h-3.5" stroke="#1c1c1c" stroke-width="1.1" fill="none"/>
<rect x="86.9" y="546.9" width="595.4" height="398.4" fill="none" stroke="#1c1c1c" stroke-width="1.5"/>
<text x="78.7" y="951.8" font-size="18" text-anchor="end">10</text>
<text x="78.7" y="879.3" font-size="18" text-anchor="end">11</text>
<text x="78.7" y="806.9" font-size="18" text-anchor="end">12</text>
<text x="78.7" y="734.4" font-size="18" text-anchor="end">13</text>
<text x="78.7" y="662.0" font-size="18" text-anchor="end">14</text>
<text x="78.7" y="589.5" font-size="18" text-anchor="end">15</text>
<text x="133.1" y="965.7" font-size="18" text-anchor="middle">10000</text>
<text x="257.1" y="965.7" font-size="18" text-anchor="middle">12000</text>
<text x="381.0" y="965.7" font-size="18" text-anchor="middle">14000</text>
<text x="505.0" y="965.7" font-size="18" text-anchor="middle">16000</text>
<text x="628.9" y="965.7" font-size="18" text-anchor="middle">18000</text>
<text x="384.6" y="989.6" font-size="18" text-anchor="middle" textLength="98.0" lengthAdjust="spacingAndGlyphs">Cycle Count</text>
<text transform="translate(46.9 825.8) rotate(-90)" font-size="18" text-anchor="start" textLength="160.4" lengthAdjust="spacingAndGlyphs">Crack Length (mm)</text>
<text transform="translate(161.4 936.5) rotate(-90)" font-size="18" text-anchor="start" textLength="58.5" lengthAdjust="spacingAndGlyphs">Cycle 1</text>
<text transform="translate(462.9 936.5) rotate(-90)" font-size="18" text-anchor="start" textLength="58.5" lengthAdjust="spacingAndGlyphs">Cycle 2</text>
<text x="2.6" y="576.8" font-size="23" text-anchor="start" textLength="18.6" lengthAdjust="spacingAndGlyphs" fill="#000" stroke="#000" stroke-width="0.45">c)</text>
<g transform="translate(119.6 797.6) rotate(-90)" font-size="16">
<text x="0" y="0" textLength="30.4" lengthAdjust="spacingAndGlyphs">1.07</text>
<text x="41.3" y="1.8" font-size="20" text-anchor="middle">×</text>
<text x="52.6" y="0" textLength="19" lengthAdjust="spacingAndGlyphs">10</text>
<text x="75.2" y="-6.8" font-size="12.5" textLength="14.5" lengthAdjust="spacingAndGlyphs">−3</text>
<text x="96.3" y="0" textLength="61.2" lengthAdjust="spacingAndGlyphs">mm/cyc</text>
</g>
<g transform="translate(219.3 738.9) rotate(-90)" font-size="16">
<text x="0" y="0" textLength="30.4" lengthAdjust="spacingAndGlyphs">2.34</text>
<text x="41.3" y="1.8" font-size="20" text-anchor="middle">×</text>
<text x="52.6" y="0" textLength="19" lengthAdjust="spacingAndGlyphs">10</text>
<text x="75.2" y="-6.8" font-size="12.5" textLength="14.5" lengthAdjust="spacingAndGlyphs">−4</text>
<text x="96.3" y="0" textLength="61.2" lengthAdjust="spacingAndGlyphs">mm/cyc</text>
</g>
<g transform="translate(364.3 715.0) rotate(-90)" font-size="16">
<text x="0" y="0" textLength="30.4" lengthAdjust="spacingAndGlyphs">1.13</text>
<text x="41.3" y="1.8" font-size="20" text-anchor="middle">×</text>
<text x="52.6" y="0" textLength="19" lengthAdjust="spacingAndGlyphs">10</text>
<text x="75.2" y="-6.8" font-size="12.5" textLength="14.5" lengthAdjust="spacingAndGlyphs">−3</text>
<text x="96.3" y="0" textLength="61.2" lengthAdjust="spacingAndGlyphs">mm/cyc</text>
</g>
<g transform="translate(416.2 919.7) rotate(-90)" font-size="16">
<text x="0" y="0" textLength="30.4" lengthAdjust="spacingAndGlyphs">1.02</text>
<text x="41.3" y="1.8" font-size="20" text-anchor="middle">×</text>
<text x="52.6" y="0" textLength="19" lengthAdjust="spacingAndGlyphs">10</text>
<text x="75.2" y="-6.8" font-size="12.5" textLength="14.5" lengthAdjust="spacingAndGlyphs">−3</text>
<text x="96.3" y="0" textLength="61.2" lengthAdjust="spacingAndGlyphs">mm/cyc</text>
</g>
<g transform="translate(514.3 869.5) rotate(-90)" font-size="16">
<text x="0" y="0" textLength="30.4" lengthAdjust="spacingAndGlyphs">2.09</text>
<text x="41.3" y="1.8" font-size="20" text-anchor="middle">×</text>
<text x="52.6" y="0" textLength="19" lengthAdjust="spacingAndGlyphs">10</text>
<text x="75.2" y="-6.8" font-size="12.5" textLength="14.5" lengthAdjust="spacingAndGlyphs">−4</text>
<text x="96.3" y="0" textLength="61.2" lengthAdjust="spacingAndGlyphs">mm/cyc</text>
</g>
<g transform="translate(658.9 819.0) rotate(-90)" font-size="16">
<text x="0" y="0" textLength="30.4" lengthAdjust="spacingAndGlyphs">8.44</text>
<text x="41.3" y="1.8" font-size="20" text-anchor="middle">×</text>
<text x="52.6" y="0" textLength="19" lengthAdjust="spacingAndGlyphs">10</text>
<text x="75.2" y="-6.8" font-size="12.5" textLength="14.5" lengthAdjust="spacingAndGlyphs">−4</text>
<text x="96.3" y="0" textLength="61.2" lengthAdjust="spacingAndGlyphs">mm/cyc</text>
</g>
<path d="M113.0 807.6L112.6 872.3M109.5 865.1L112.6 872.3L115.7 865.1" fill="none" stroke="#444" stroke-width="0.8"/>
<path d="M225.2 748.5L233.3 811.6M229.3 804.9L233.3 811.6L235.5 804.1" fill="none" stroke="#444" stroke-width="0.8"/>
<path d="M358.0 725.0L358.0 747.0M354.9 739.8L358.0 747.0L361.1 739.8" fill="none" stroke="#444" stroke-width="0.8"/>
<path d="M410.4 755.0L410.4 689.8M413.5 697.0L410.4 689.8L407.3 697.0" fill="none" stroke="#444" stroke-width="0.8"/>
<path d="M519.7 703.8L527.6 640.8M529.8 648.3L527.6 640.8L523.6 647.6" fill="none" stroke="#444" stroke-width="0.8"/>
<path d="M653.0 652.9L653.0 589.4M656.1 596.6L653.0 589.4L649.9 596.6" fill="none" stroke="#444" stroke-width="0.8"/>
</svg>
</body></html>
